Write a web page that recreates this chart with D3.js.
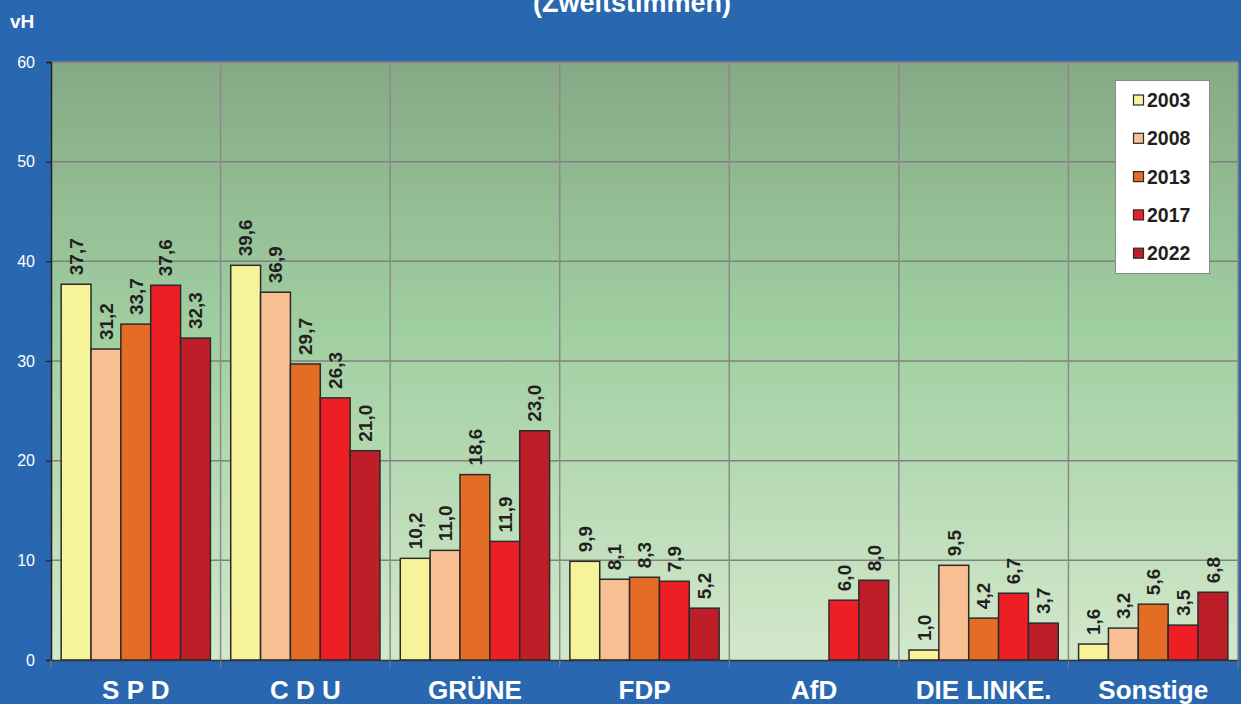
<!DOCTYPE html>
<html><head><meta charset="utf-8">
<script src="https://cdn.jsdelivr.net/npm/d3@7"></script>
<style>html,body{margin:0;padding:0;background:#2a67b1;}svg{display:block;}</style>
</head><body>
<svg id="c" width="1241" height="704"></svg>
<script>
const categories = ["S P D", "C D U", "GRÜNE", "FDP", "AfD", "DIE LINKE.", "Sonstige"];
const years = ["2003", "2008", "2013", "2017", "2022"];
const v2003 = [37.7, 39.6, 10.2, 9.9, null, 1.0, 1.6];
const v2008 = [31.2, 36.9, 11.0, 8.1, null, 9.5, 3.2];
const v2013 = [33.7, 29.7, 18.6, 8.3, null, 4.2, 5.6];
const v2017 = [37.6, 26.3, 11.9, 7.9, 6.0, 6.7, 3.5];
const v2022 = [32.3, 21.0, 23.0, 5.2, 8.0, 3.7, 6.8];
const yTicks = [0, 10, 20, 30, 40, 50, 60];
const colors = ["#f7f39b", "#f8c092", "#e46c24", "#ee1e25", "#be1e28"];

const series = [v2003, v2008, v2013, v2017, v2022];
const svg = d3.select("#c");
const W = 1241, H = 704;
const m = {l: 51, r: 1238, t: 62, b: 660};
const font = "'Liberation Sans', Arial, sans-serif";

svg.append("rect").attr("width", W).attr("height", H).attr("fill", "#2a67b1");

const defs = svg.append("defs");
const g = defs.append("linearGradient").attr("id", "bg").attr("x1", 0).attr("y1", 0).attr("x2", 0).attr("y2", 1);
g.append("stop").attr("offset", "0%").attr("stop-color", "#86a985");
g.append("stop").attr("offset", "45%").attr("stop-color", "#a0cfa1");
g.append("stop").attr("offset", "100%").attr("stop-color", "#d3e8cb");

const x0 = d3.scaleBand().domain(categories).range([m.l, m.r]).paddingInner(0).paddingOuter(0);
const x1 = d3.scaleBand().domain(years).range([0, x0.bandwidth()]).paddingOuter(0.34).paddingInner(0);
const y = d3.scaleLinear().domain([0, 60]).range([m.b, m.t]);

svg.append("rect").attr("x", m.l).attr("y", m.t).attr("width", m.r - m.l).attr("height", m.b - m.t).attr("fill", "url(#bg)");

// horizontal gridlines
svg.append("g").selectAll("line").data(yTicks.filter(d => d > 0)).join("line")
  .attr("x1", m.l).attr("x2", m.r).attr("y1", d => y(d)).attr("y2", d => y(d))
  .attr("stroke", "#808080").attr("stroke-width", 1.5);
// vertical separators
const seps = categories.map(c => x0(c)).slice(1).concat([m.r]);
svg.append("g").selectAll("line").data(seps).join("line")
  .attr("x1", d => d).attr("x2", d => d).attr("y1", m.t).attr("y2", m.b)
  .attr("stroke", "#8a8a8a").attr("stroke-width", 1.5);

// bars
const bars = [];
categories.forEach((c, ci) => {
  series.forEach((s, si) => {
    if (s[ci] != null) bars.push({c, yr: years[si], v: s[ci], col: colors[si]});
  });
});
const bg = svg.append("g");
bg.selectAll("rect").data(bars).join("rect")
  .attr("x", d => x0(d.c) + x1(d.yr))
  .attr("y", d => y(d.v))
  .attr("width", x1.bandwidth())
  .attr("height", d => y(0) - y(d.v))
  .attr("fill", d => d.col)
  .attr("stroke", "#2b2b2b").attr("stroke-width", 1.5);

// value labels
const fmt = d => d.toFixed(1).replace(".", ",");
bg.selectAll("text").data(bars).join("text")
  .attr("transform", d => `translate(${x0(d.c) + x1(d.yr) + x1.bandwidth() / 2},${y(d.v) - 9}) rotate(-90)`)
  .attr("dy", "0.36em")
  .attr("font-family", font).attr("font-weight", "bold").attr("font-size", 19)
  .attr("fill", "#231f20")
  .text(d => fmt(d.v));

// y axis
const ya = svg.append("g").attr("transform", `translate(${m.l},0)`)
  .call(d3.axisLeft(y).tickValues(yTicks).tickSize(5).tickPadding(11));
ya.select(".domain").attr("stroke", "#222").attr("stroke-width", 1.5);
ya.selectAll(".tick line").attr("stroke", "#222").attr("stroke-width", 1.2);
ya.selectAll("text").attr("fill", "#fff").attr("font-family", font).attr("font-size", 16);

// x axis
const xa = svg.append("g").attr("transform", `translate(0,${m.b})`)
  .call(d3.axisBottom(x0).tickSize(0).tickPadding(0));
xa.select(".domain").attr("stroke", "#333").attr("stroke-width", 1.5);
xa.selectAll("text").attr("fill", "#fff").attr("font-family", font).attr("font-weight", "bold")
  .attr("font-size", 26).attr("dy", 0).attr("y", 39);
svg.append("g").selectAll("line").data([m.l].concat(seps)).join("line")
  .attr("x1", d => d).attr("x2", d => d).attr("y1", m.b).attr("y2", m.b + 8)
  .attr("stroke", "#777").attr("stroke-width", 1.2);

// title & unit
svg.append("text").attr("x", 632).attr("y", 12).attr("text-anchor", "middle")
  .attr("font-family", font).attr("font-weight", "bold").attr("font-size", 27).attr("fill", "#fff")
  .text("(Zweitstimmen)");
svg.append("text").attr("x", 10).attr("y", 28)
  .attr("font-family", font).attr("font-weight", "bold").attr("font-size", 19).attr("fill", "#fff")
  .text("vH");

// legend
const lg = svg.append("g");
lg.append("rect").attr("x", 1115.5).attr("y", 80.5).attr("width", 94).attr("height", 193)
  .attr("fill", "#fff").attr("stroke", "#888").attr("stroke-width", 1);
const li = lg.selectAll("g.it").data(years).join("g").attr("class", "it")
  .attr("transform", (d, i) => `translate(0,${100 + i * 38.3})`);
li.append("rect").attr("x", 1133.5).attr("y", -5).attr("width", 10).attr("height", 10)
  .attr("fill", (d, i) => colors[i]).attr("stroke", "#2b2b2b").attr("stroke-width", 1.2);
li.append("text").attr("x", 1147).attr("dy", "0.36em")
  .attr("font-family", font).attr("font-weight", "bold").attr("font-size", 19.5).attr("fill", "#231f20")
  .text(d => d);
</script>
</body></html>
